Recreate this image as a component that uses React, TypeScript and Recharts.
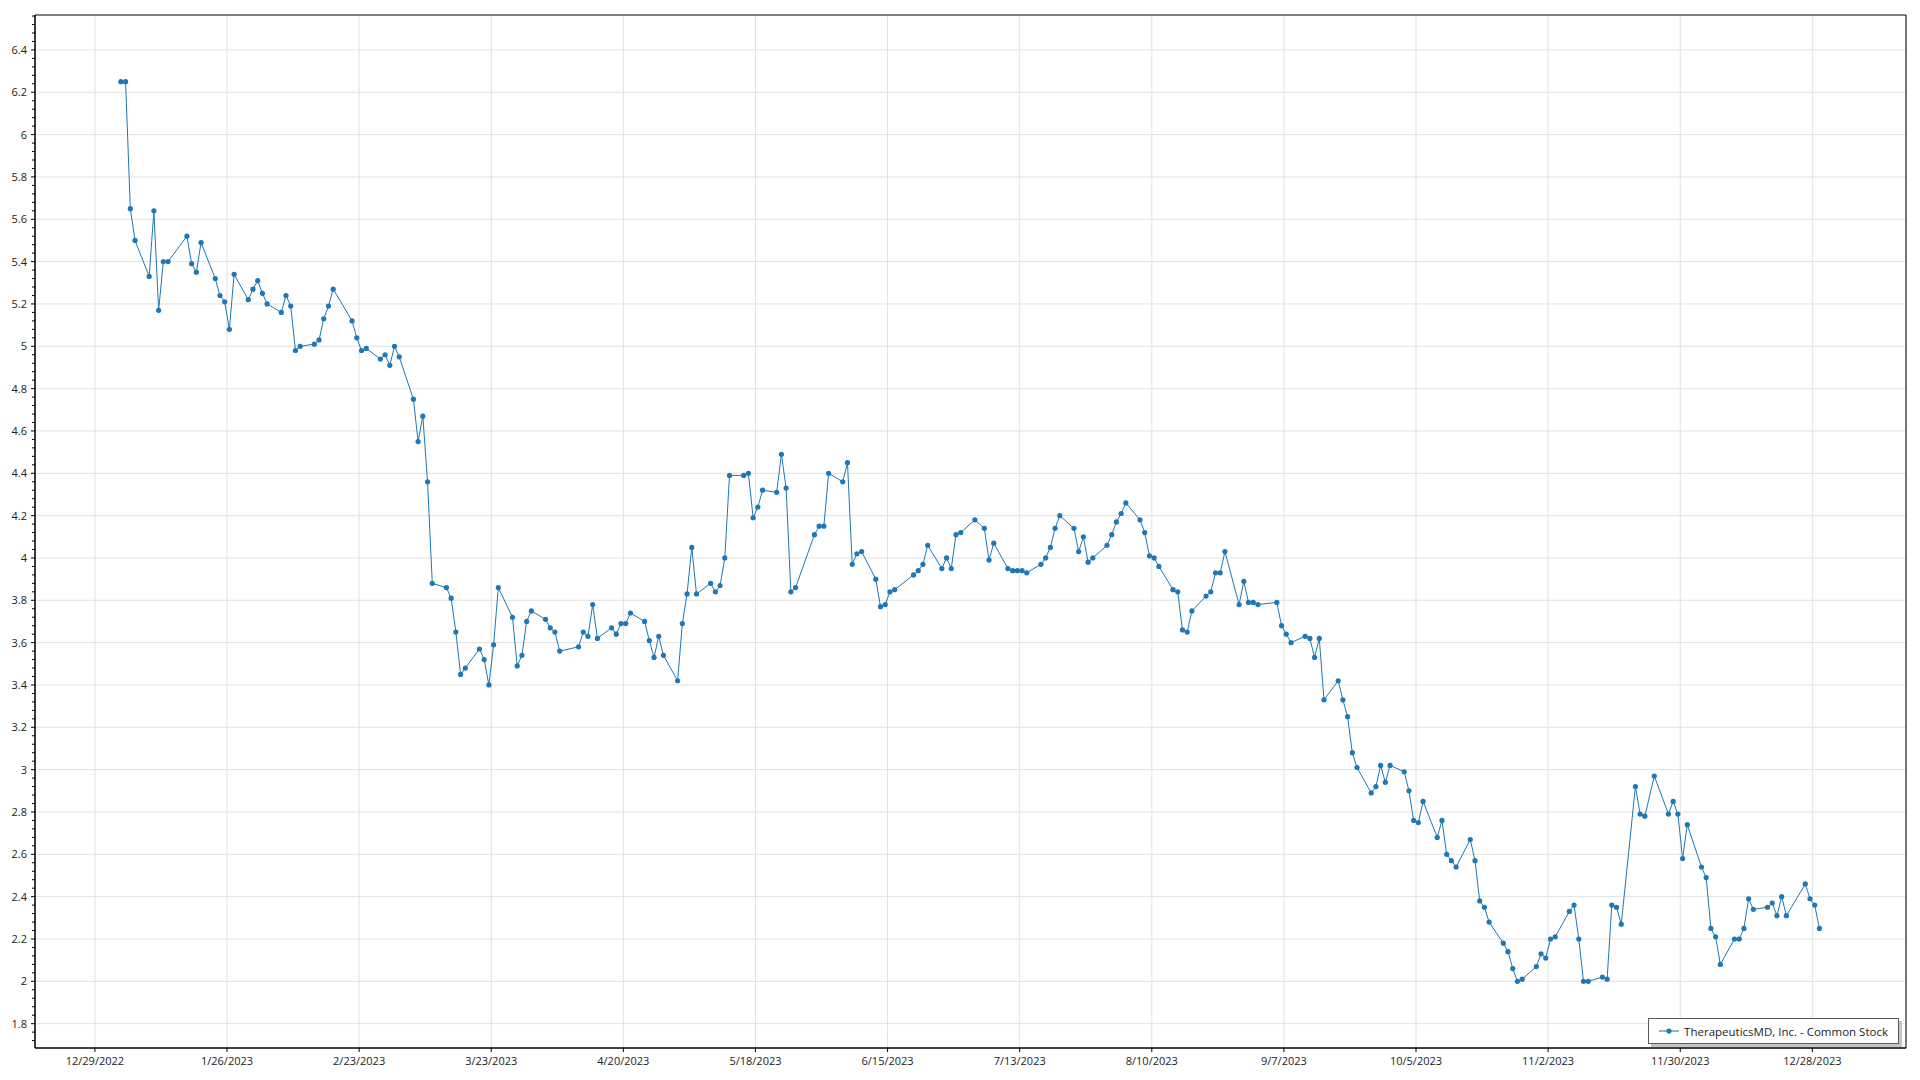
import React from 'react';
import { LineChart, Line, XAxis, YAxis, CartesianGrid, Legend, ReferenceArea } from 'recharts';

// daily closes, 2023
const tradeDates: string[] = [
  '2023-01-03', '2023-01-04', '2023-01-05', '2023-01-06', '2023-01-09', '2023-01-10', '2023-01-11', '2023-01-12', '2023-01-13', '2023-01-17',
  '2023-01-18', '2023-01-19', '2023-01-20', '2023-01-23', '2023-01-24', '2023-01-25', '2023-01-26', '2023-01-27', '2023-01-30', '2023-01-31',
  '2023-02-01', '2023-02-02', '2023-02-03', '2023-02-06', '2023-02-07', '2023-02-08', '2023-02-09', '2023-02-10', '2023-02-13', '2023-02-14',
  '2023-02-15', '2023-02-16', '2023-02-17', '2023-02-21', '2023-02-22', '2023-02-23', '2023-02-24', '2023-02-27', '2023-02-28',
  '2023-03-01', '2023-03-02', '2023-03-03', '2023-03-06', '2023-03-07', '2023-03-08', '2023-03-09', '2023-03-10', '2023-03-13', '2023-03-14',
  '2023-03-15', '2023-03-16', '2023-03-17', '2023-03-20', '2023-03-21', '2023-03-22', '2023-03-23', '2023-03-24', '2023-03-27', '2023-03-28',
  '2023-03-29', '2023-03-30', '2023-03-31',
  '2023-04-03', '2023-04-04', '2023-04-05', '2023-04-06', '2023-04-10', '2023-04-11', '2023-04-12', '2023-04-13', '2023-04-14', '2023-04-17',
  '2023-04-18', '2023-04-19', '2023-04-20', '2023-04-21', '2023-04-24', '2023-04-25', '2023-04-26', '2023-04-27', '2023-04-28',
  '2023-05-01', '2023-05-02', '2023-05-03', '2023-05-04', '2023-05-05', '2023-05-08', '2023-05-09', '2023-05-10', '2023-05-11', '2023-05-12',
  '2023-05-15', '2023-05-16', '2023-05-17', '2023-05-18', '2023-05-19', '2023-05-22', '2023-05-23', '2023-05-24', '2023-05-25', '2023-05-26',
  '2023-05-30', '2023-05-31',
  '2023-06-01', '2023-06-02', '2023-06-05', '2023-06-06', '2023-06-07', '2023-06-08', '2023-06-09', '2023-06-12', '2023-06-13', '2023-06-14',
  '2023-06-15', '2023-06-16', '2023-06-20', '2023-06-21', '2023-06-22', '2023-06-23', '2023-06-26', '2023-06-27', '2023-06-28', '2023-06-29',
  '2023-06-30',
  '2023-07-03', '2023-07-05', '2023-07-06', '2023-07-07', '2023-07-10', '2023-07-11', '2023-07-12', '2023-07-13', '2023-07-14', '2023-07-17',
  '2023-07-18', '2023-07-19', '2023-07-20', '2023-07-21', '2023-07-24', '2023-07-25', '2023-07-26', '2023-07-27', '2023-07-28', '2023-07-31',
  '2023-08-01', '2023-08-02', '2023-08-03', '2023-08-04', '2023-08-07', '2023-08-08', '2023-08-09', '2023-08-10', '2023-08-11', '2023-08-14',
  '2023-08-15', '2023-08-16', '2023-08-17', '2023-08-18', '2023-08-21', '2023-08-22', '2023-08-23', '2023-08-24', '2023-08-25', '2023-08-28',
  '2023-08-29', '2023-08-30', '2023-08-31',
  '2023-09-01', '2023-09-05', '2023-09-06', '2023-09-07', '2023-09-08', '2023-09-11', '2023-09-12', '2023-09-13', '2023-09-14', '2023-09-15',
  '2023-09-18', '2023-09-19', '2023-09-20', '2023-09-21', '2023-09-22', '2023-09-25', '2023-09-26', '2023-09-27', '2023-09-28', '2023-09-29',
  '2023-10-02', '2023-10-03', '2023-10-04', '2023-10-05', '2023-10-06', '2023-10-09', '2023-10-10', '2023-10-11', '2023-10-12', '2023-10-13',
  '2023-10-16', '2023-10-17', '2023-10-18', '2023-10-19', '2023-10-20', '2023-10-23', '2023-10-24', '2023-10-25', '2023-10-26', '2023-10-27',
  '2023-10-30', '2023-10-31',
  '2023-11-01', '2023-11-02', '2023-11-03', '2023-11-06', '2023-11-07', '2023-11-08', '2023-11-09', '2023-11-10', '2023-11-13', '2023-11-14',
  '2023-11-15', '2023-11-16', '2023-11-17', '2023-11-20', '2023-11-21', '2023-11-22', '2023-11-24', '2023-11-27', '2023-11-28', '2023-11-29',
  '2023-11-30',
  '2023-12-01', '2023-12-04', '2023-12-05', '2023-12-06', '2023-12-07', '2023-12-08', '2023-12-11', '2023-12-12', '2023-12-13', '2023-12-14',
  '2023-12-15', '2023-12-18', '2023-12-19', '2023-12-20', '2023-12-21', '2023-12-22', '2023-12-26', '2023-12-27', '2023-12-28', '2023-12-29',
];

const closePrices: number[] = [
  6.25, 6.25, 5.65, 5.5, 5.33, 5.64, 5.17, 5.4, 5.4, 5.52,
  5.39, 5.35, 5.49, 5.32, 5.24, 5.21, 5.08, 5.34, 5.22, 5.27,
  5.31, 5.25, 5.2, 5.16, 5.24, 5.19, 4.98, 5.0, 5.01, 5.03,
  5.13, 5.19, 5.27, 5.12, 5.04, 4.98, 4.99, 4.94, 4.96,
  4.91, 5.0, 4.95, 4.75, 4.55, 4.67, 4.36, 3.88, 3.86, 3.81,
  3.65, 3.45, 3.48, 3.57, 3.52, 3.4, 3.59, 3.86, 3.72, 3.49,
  3.54, 3.7, 3.75,
  3.71, 3.67, 3.65, 3.56, 3.58, 3.65, 3.63, 3.78, 3.62, 3.67,
  3.64, 3.69, 3.69, 3.74, 3.7, 3.61, 3.53, 3.63, 3.54,
  3.42, 3.69, 3.83, 4.05, 3.83, 3.88, 3.84, 3.87, 4.0, 4.39,
  4.39, 4.4, 4.19, 4.24, 4.32, 4.31, 4.49, 4.33, 3.84, 3.86,
  4.11, 4.15,
  4.15, 4.4, 4.36, 4.45, 3.97, 4.02, 4.03, 3.9, 3.77, 3.78,
  3.84, 3.85, 3.92, 3.94, 3.97, 4.06, 3.95, 4.0, 3.95, 4.11,
  4.12,
  4.18, 4.14, 3.99, 4.07, 3.95, 3.94, 3.94, 3.94, 3.93, 3.97,
  4.0, 4.05, 4.14, 4.2, 4.14, 4.03, 4.1, 3.98, 4.0, 4.06,
  4.11, 4.17, 4.21, 4.26, 4.18, 4.12, 4.01, 4.0, 3.96, 3.85,
  3.84, 3.66, 3.65, 3.75, 3.82, 3.84, 3.93, 3.93, 4.03, 3.78,
  3.89, 3.79, 3.79,
  3.78, 3.79, 3.68, 3.64, 3.6, 3.63, 3.62, 3.53, 3.62, 3.33,
  3.42, 3.33, 3.25, 3.08, 3.01, 2.89, 2.92, 3.02, 2.94, 3.02,
  2.99, 2.9, 2.76, 2.75, 2.85, 2.68, 2.76, 2.6, 2.57, 2.54,
  2.67, 2.57, 2.38, 2.35, 2.28, 2.18, 2.14, 2.06, 2.0, 2.01,
  2.07, 2.13,
  2.11, 2.2, 2.21, 2.33, 2.36, 2.2, 2.0, 2.0, 2.02, 2.01,
  2.36, 2.35, 2.27, 2.92, 2.79, 2.78, 2.97, 2.79, 2.85, 2.79,
  2.58,
  2.74, 2.54, 2.49, 2.25, 2.21, 2.08, 2.2, 2.2, 2.25, 2.39,
  2.34, 2.35, 2.37, 2.31, 2.4, 2.31, 2.46, 2.39, 2.36, 2.25,
];

const xTickDates: string[] = [
  '2022-12-29', '2023-01-26', '2023-02-23', '2023-03-23', '2023-04-20', '2023-05-18', '2023-06-15',
  '2023-07-13', '2023-08-10', '2023-09-07', '2023-10-05', '2023-11-02', '2023-11-30', '2023-12-28',
];

const yMajorTicks: number[] = [1.8, 2, 2.2, 2.4, 2.6, 2.8, 3, 3.2, 3.4, 3.6, 3.8, 4, 4.2, 4.4, 4.6, 4.8, 5, 5.2, 5.4, 5.6, 5.8, 6, 6.2, 6.4];

const seriesName = 'TherapeuticsMD, Inc. - Common Stock';
const blue = '#1f77b4';

const DAY = 86400000;
// closes are stamped at midday, ticks at midnight
const CLOSE_TIME = 0.5;
const toDay = (s: string) => {
  const [y, m, d] = s.split('-').map(Number);
  return Date.UTC(y, m - 1, d) / DAY;
};
const fmtDay = (n: number) => {
  const dt = new Date(Math.round(n) * DAY);
  return `${dt.getUTCMonth() + 1}/${dt.getUTCDate()}/${dt.getUTCFullYear()}`;
};

const chartData = tradeDates.map((d, i) => ({ t: toDay(d) + CLOSE_TIME, price: closePrices[i] }));
const xTicks = xTickDates.map(toDay);
const xDomain: [number, number] = [xTicks[0] - 12.7, xTicks[0] + 383.85];
const yDomain: [number, number] = [1.685, 6.565];

// minor ticks every 0.04 on the value axis
const yAllTicks: number[] = [];
for (let k = Math.ceil(yDomain[0] / 0.04); k * 0.04 <= yDomain[1]; k++) {
  yAllTicks.push(Number((k * 0.04).toFixed(2)));
}

const YTick = (props: any) => {
  const { x, y, payload } = props;
  const v: number = payload.value;
  const major = Math.abs(v * 5 - Math.round(v * 5)) < 1e-6;
  return (
    <g>
      <line x1={x - (major ? 4 : 3)} x2={x} y1={y} y2={y} stroke="#000" strokeWidth={1} />
      {major && (
        <text x={x - 8} y={y} dy="0.355em" textAnchor="end" fontSize={11} fill="#222">
          {String(Number(v.toFixed(1)))}
        </text>
      )}
    </g>
  );
};

const LegendBox = (props: any) => {
  const entry = props.payload && props.payload[0];
  return (
    <div
      style={{
        background: '#fff',
        border: '1.5px solid #5a5a5a',
        boxShadow: '3px 3px 0 #c4c4c4',
        padding: '0 10px',
        height: 24,
        display: 'flex',
        alignItems: 'center',
        gap: 5,
        fontFamily: '"Open Sans", sans-serif',
        fontSize: 11.5,
        color: '#222',
        whiteSpace: 'nowrap',
      }}
    >
      <svg width={20} height={10}>
        <line x1={0} x2={20} y1={5} y2={5} stroke={blue} strokeWidth={1.5} opacity={0.7} />
        <circle cx={10} cy={5} r={2.6} fill={blue} />
      </svg>
      <span>{entry ? entry.value : seriesName}</span>
    </div>
  );
};

const App: React.FC = () => {
  return (
    <div style={{ position: 'absolute', left: 0, top: 0, width: 1920, height: 1080, background: '#fff' }}>
      <LineChart
        width={1920}
        height={1080}
        data={chartData}
        margin={{ top: 15, right: 14, bottom: 0, left: 0 }}
        style={{ fontFamily: '"Open Sans", sans-serif' }}
      >
        <CartesianGrid stroke="#e2e2e2" horizontalValues={yMajorTicks} />
        <XAxis
          type="number"
          dataKey="t"
          domain={xDomain}
          ticks={xTicks}
          tickFormatter={fmtDay}
          interval={0}
          allowDataOverflow
          height={32}
          tickSize={4}
          tickMargin={5}
          stroke="#000"
          tick={{ fontSize: 11, fill: '#222' }}
        />
        <YAxis
          type="number"
          domain={yDomain}
          ticks={yAllTicks}
          interval={0}
          allowDataOverflow
          width={35}
          tickLine={false}
          tickSize={0}
          tickMargin={0}
          stroke="#000"
          tick={<YTick />}
        />
        <ReferenceArea
          x1={xDomain[0]}
          x2={xDomain[1]}
          y1={yDomain[0]}
          y2={yDomain[1]}
          fill="none"
          stroke="#000"
          strokeWidth={1}
          ifOverflow="visible"
        />
        <Line
          type="linear"
          dataKey="price"
          name={seriesName}
          stroke={blue}
          strokeWidth={1}
          dot={{ r: 2.6, fill: blue, stroke: blue, strokeWidth: 0 }}
          activeDot={false}
          isAnimationActive={false}
        />
        <Legend
          layout="vertical"
          align="center"
          verticalAlign="middle"
          wrapperStyle={{ right: 21, bottom: 36 }}
          content={<LegendBox />}
        />
      </LineChart>
    </div>
  );
};

export default App;
